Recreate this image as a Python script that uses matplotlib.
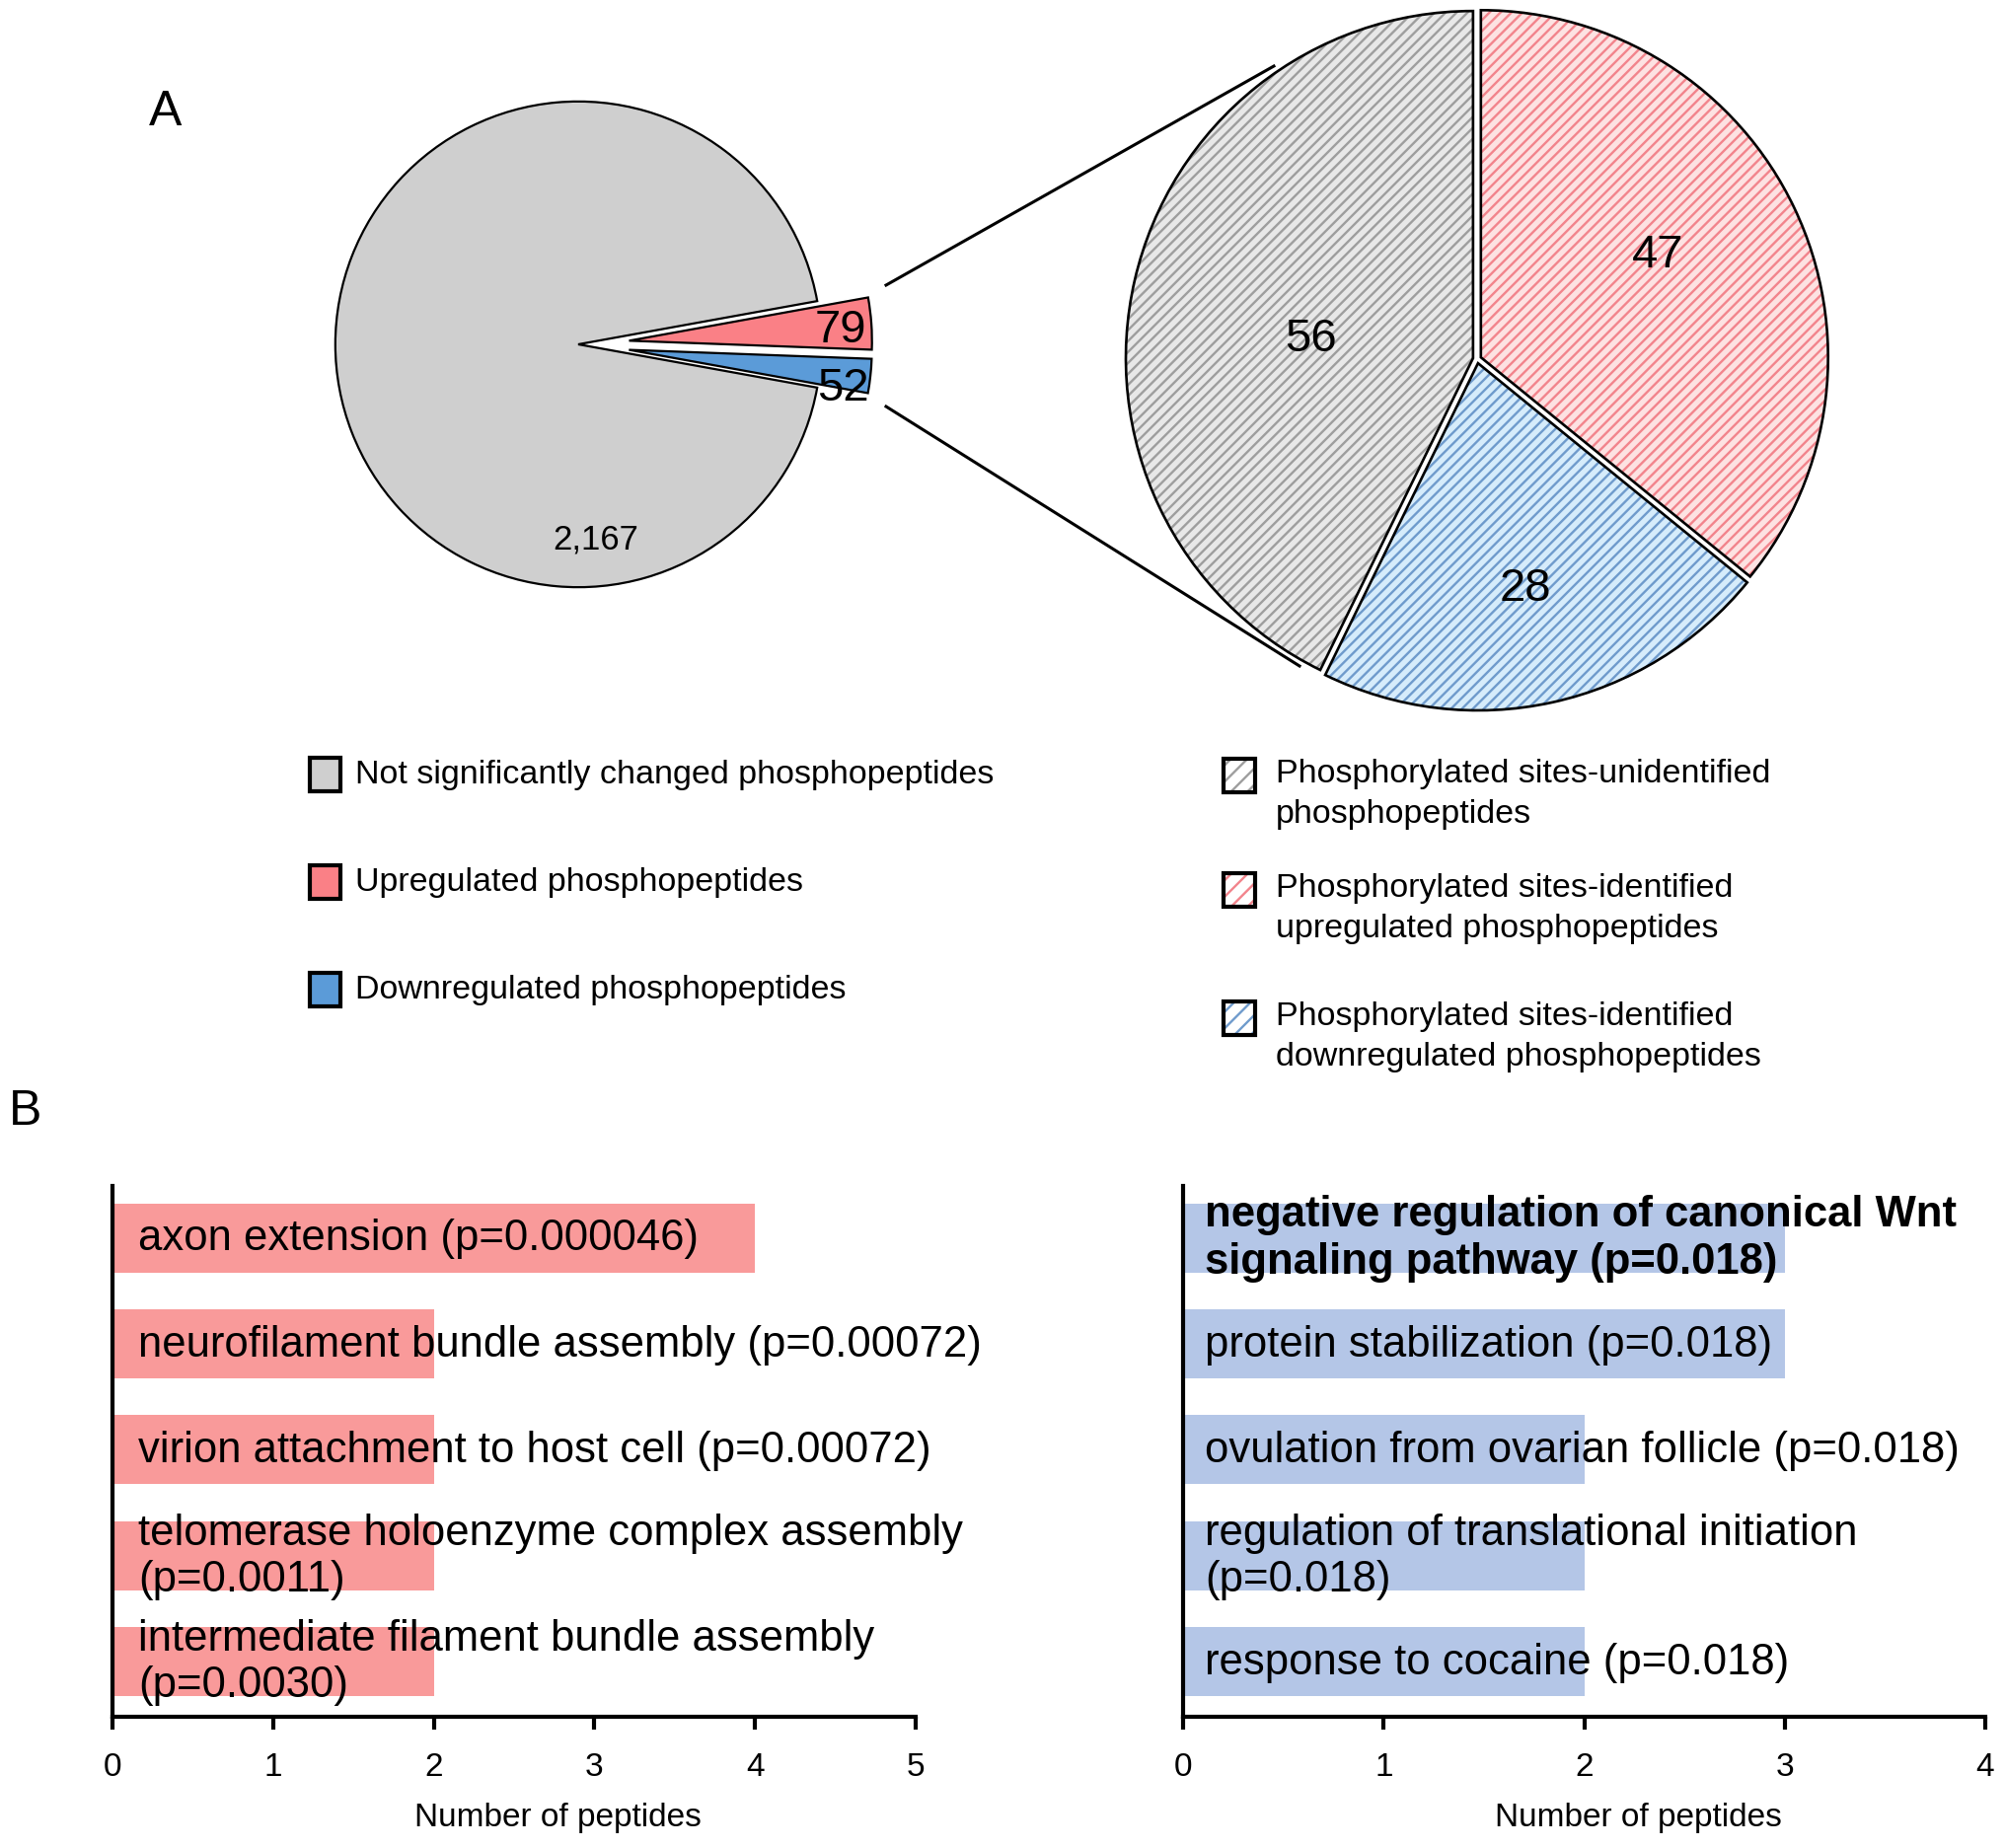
import matplotlib.pyplot as plt
import matplotlib.patches as patches

plt.rcParams['font.family'] = ['Liberation Sans', 'DejaVu Sans']
plt.rcParams['hatch.linewidth'] = 1.7

W, H = 2032, 1874

# panel A, left pie: all quantified phosphopeptides
all_labels = ['Not significantly changed phosphopeptides',
              'Upregulated phosphopeptides',
              'Downregulated phosphopeptides']
all_counts = [2167, 79, 52]
all_colors = ['#cfcfcf', '#fa8086', '#5b9bd8']

# panel A, right pie: breakdown of the changed ones
zoom_labels = ['Phosphorylated sites-unidentified\nphosphopeptides',
               'Phosphorylated sites-identified\nupregulated phosphopeptides',
               'Phosphorylated sites-identified\ndownregulated phosphopeptides']
zoom_counts = [56, 47, 28]
zoom_faces = ['#e8e8e8', '#fde2e2', '#d6ecfb']
zoom_hatches = ['#9e9e9e', '#f2848c', '#6f9bcc']

# panel B
up_terms = ['axon extension (p=0.000046)',
            'neurofilament bundle assembly (p=0.00072)',
            'virion attachment to host cell (p=0.00072)',
            'telomerase holoenzyme complex assembly\n(p=0.0011)',
            'intermediate filament bundle assembly\n(p=0.0030)']
up_counts = [4, 2, 2, 2, 2]
down_terms = ['negative regulation of canonical Wnt\nsignaling pathway (p=0.018)',
              'protein stabilization (p=0.018)',
              'ovulation from ovarian follicle (p=0.018)',
              'regulation of translational initiation\n(p=0.018)',
              'response to cocaine (p=0.018)']
down_counts = [3, 3, 2, 2, 2]


def px_axes(x0, y0, x1, y1):
    # axes from pixel box, y measured from the top
    return fig.add_axes([x0 / W, 1 - y1 / H, (x1 - x0) / W, (y1 - y0) / H])


fig = plt.figure(figsize=(W / 100, H / 100), dpi=100)

# overlay for letters, connector lines and legends
ov = px_axes(0, 0, W, H)
ov.set_xlim(0, W)
ov.set_ylim(H, 0)
ov.axis('off')

ov.text(168, 114, 'A', fontsize=36, ha='center', va='center')
ov.text(26, 1127, 'B', fontsize=36, ha='center', va='center')
ov.plot([898, 1291], [290, 68], color='black', lw=2.2)
ov.plot([898, 1317], [413, 676], color='black', lw=2.2)

# ---- small pie, the changed slices pulled out and centred on the right
ax1 = px_axes(266, 30, 906, 670)
total = sum(all_counts)
ax1.pie(all_counts, colors=all_colors, explode=[0, 0.21, 0.21],
        startangle=-180 * (all_counts[1] + all_counts[2]) / total, counterclock=False,
        wedgeprops=dict(edgecolor='black', linewidth=1.6))
ax1.set_xlim(-1.3, 1.3)
ax1.set_ylim(-1.3, 1.3)
ax1.set_aspect('equal')
ax1.text(1.08, 0.06, str(all_counts[1]), fontsize=34, ha='center', va='center')
ax1.text(1.09, -0.18, str(all_counts[2]), fontsize=34, ha='center', va='center')
ax1.text(0.07, -0.80, f'{all_counts[0]:,}', fontsize=25, ha='center', va='center')

# ---- zoomed pie, hatched
ax2 = px_axes(1124, -8, 1870, 738)
order = [1, 2, 0]  # up, down, unidentified clockwise from top
vals = [zoom_counts[i] for i in order]
wedges, _ = ax2.pie(vals, explode=[0.012] * 3, startangle=90, counterclock=False,
                    colors=[zoom_faces[i] for i in order],
                    wedgeprops=dict(linewidth=0))
for w, i in zip(wedges, order):
    w.set_edgecolor(zoom_hatches[i])
    w.set_hatch('///')
ax2.pie(vals, explode=[0.012] * 3, startangle=90, counterclock=False,
        wedgeprops=dict(facecolor='none', edgecolor='black', linewidth=1.9))
ax2.set_xlim(-1.06, 1.06)
ax2.set_ylim(-1.06, 1.06)
ax2.set_aspect('equal')
for (x, y), v in zip([(-0.48, 0.06), (0.52, 0.30), (0.14, -0.66)], zoom_counts):
    ax2.text(x, y, str(v), fontsize=34, ha='center', va='center')

# ---- legends
for lab, col, yc in zip(all_labels, all_colors, [786, 895, 1004]):
    ov.add_patch(patches.Rectangle((314, yc - 17), 31, 34, facecolor=col,
                                   edgecolor='black', linewidth=3))
    ov.text(360, yc, lab, fontsize=24.5, ha='left', va='center')

for lab, hc, yc in zip(zoom_labels, zoom_hatches, [787, 903, 1033]):
    ov.add_patch(patches.Rectangle((1240, yc - 17), 32, 34, facecolor='white',
                                   edgecolor=hc, linewidth=0, hatch='//'))
    ov.add_patch(patches.Rectangle((1240, yc - 17), 32, 34, facecolor='none',
                                   edgecolor='black', linewidth=3))
    ov.text(1293, yc - 18, lab, fontsize=24.5, ha='left', va='top', linespacing=1.4)


# ---- bar charts
def bar_panel(box, terms, counts, color, xmax, text_x, label_x):
    ax = px_axes(*box)
    ax.set_facecolor('none')
    ypos = list(range(len(terms)))
    ax.barh(ypos, counts, height=0.65, color=color)
    ax.set_xlim(0, xmax)
    ax.set_ylim(4.52, -0.49)
    ax.set_yticks([])
    ax.set_xticks(range(xmax + 1))
    for s in ['top', 'right']:
        ax.spines[s].set_visible(False)
    for s in ['left', 'bottom']:
        ax.spines[s].set_linewidth(3)
    ax.tick_params(axis='x', length=9, width=3, labelsize=24, pad=16)
    ax.set_xlabel('Number of peptides', fontsize=24)
    ax.xaxis.set_label_coords(label_x, -0.16)
    for i, t in enumerate(terms):
        ax.text(text_x, i, t, fontsize=31.4, ha='left', va='center',
                fontweight='bold' if t.startswith('negative') else 'normal')
    return ax


bar_panel((114, 1203, 928, 1741), up_terms, up_counts, '#f99a9a', 5, 0.16, 0.555)
bar_panel((1199, 1203, 2012, 1741), down_terms, down_counts, '#b4c6e7', 4, 0.11, 0.568)

fig.savefig('out.png', dpi=100)
